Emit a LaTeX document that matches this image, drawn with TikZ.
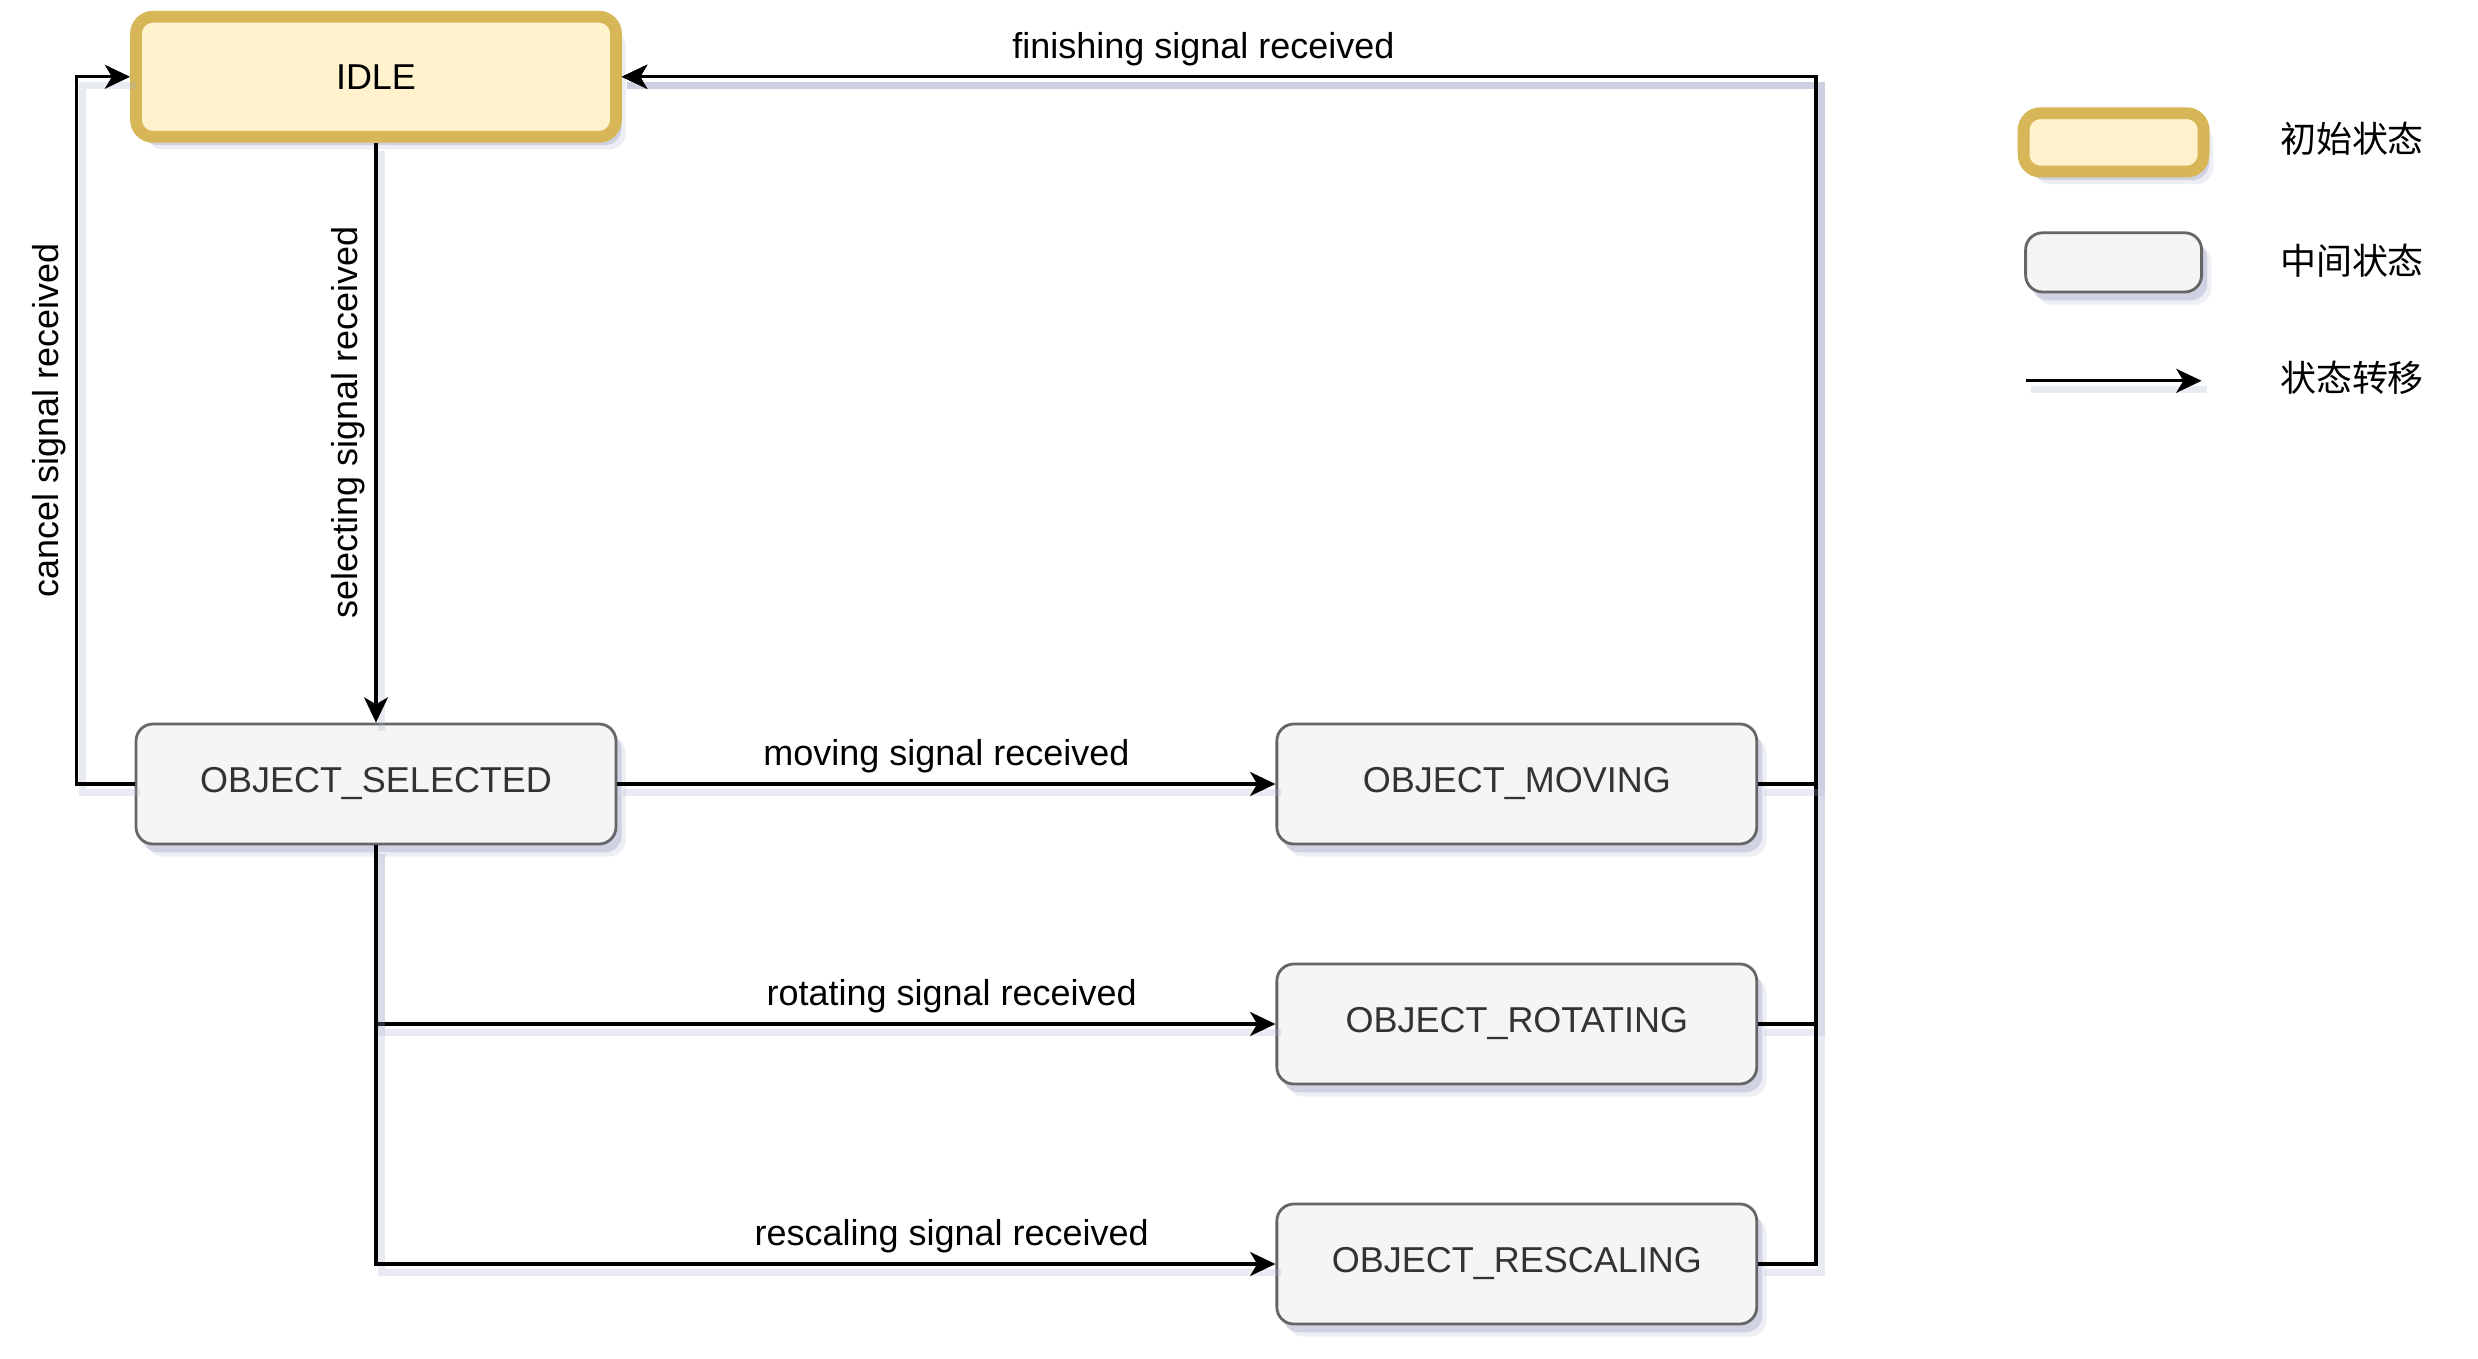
\documentclass[tikz,border=0pt]{standalone}
\usepackage{fontspec}
\setmainfont{Liberation Sans}
\newfontfamily\cjk{Noto Sans CJK SC}
\usetikzlibrary{arrows.meta,shadows,positioning}

\definecolor{idlefill}{HTML}{FFF2CC}
\definecolor{idledraw}{HTML}{D6B656}
\definecolor{statefill}{HTML}{F5F5F5}
\definecolor{statedraw}{HTML}{666666}
\definecolor{statetext}{HTML}{333333}
\definecolor{shadowc}{HTML}{A9AECB}

\begin{document}
\begin{tikzpicture}[x=0.02cm,y=-0.02cm,
    >={Stealth[length=9pt,width=8.5pt,inset=2.5pt]},
    every node/.style={font=\fontsize{12.8}{15}\selectfont}]
    \tikzstyle{state}=[rectangle,rounded corners=6pt,minimum width=6cm,
      minimum height=1.5cm,fill=statefill,draw=statedraw,line width=1pt,
      text=statetext,
      drop shadow={shadow xshift=3.5pt,shadow yshift=-4.5pt,
      fill=shadowc,opacity=0.2},
      drop shadow={shadow xshift=2pt,shadow yshift=-3pt,
      fill=shadowc,opacity=0.45}]
    \tikzstyle{initstate}=[state,fill=idlefill,draw=idledraw,line width=4.2pt,
      text=black]
    \tikzstyle{trans}=[->,line width=1.1pt,
      preaction={draw=shadowc,-,line width=2.5pt,opacity=0.25,
      transform canvas={shift={(2pt,-3pt)}}}]

    \useasboundingbox (0,0) rectangle (1548.75,849.375);

    \node[initstate] (idle) at (235,48)  {IDLE};
    \node[state]     (sel)  at (235,490) {OBJECT\_SELECTED};
    \node[state]     (mov)  at (948,490) {OBJECT\_MOVING};
    \node[state]     (rot)  at (948,640) {OBJECT\_ROTATING};
    \node[state]     (resc) at (948,790) {OBJECT\_RESCALING};
    \coordinate (lt) at (48,48);
    \coordinate (rt) at (1135,48);

    \draw[trans] (idle) -- node[pos=0.482,rotate=90,anchor=south]
      {selecting signal received} (sel);
    \draw[trans] (sel.west) -| node[pos=0.757,rotate=90,anchor=south]
      {cancel signal received} (lt) -- (idle.west);
    \draw[trans] (sel) -- node[above] {moving signal received} (mov);
    \draw[trans] (sel.south) |- node[pos=0.82,above]
      {rotating signal received} (rot.west);
    \draw[trans] (sel.south) |- node[pos=0.82,above]
      {rescaling signal received} (resc.west);
    \draw[trans] (rot.east) -| (rt) -- (idle.east);
    \draw[trans] (resc.east) -| (rt) -- (idle.east);
    \draw[trans] (mov.east) -| (rt) -- node[pos=0.513,above]
      {finishing signal received} (idle.east);

    % legend
    \node[initstate,minimum width=2.25cm,minimum height=0.73cm] (keyinit)
      at (1321,89) {};
    \node (keyinittxt) at (1470,87) {\cjk 初始状态};
    \node[state,minimum width=2.2cm,minimum height=0.74cm] (keymid)
      at (1321,164) {};
    \node (keymidtxt) at (1470,163) {\cjk 中间状态};
    \coordinate (keya) at (1266,238);
    \coordinate (keyb) at (1376,238);
    \draw[trans] (keya) -- (keyb);
    \node (keytrtxt) at (1470,236) {\cjk 状态转移};
\end{tikzpicture}
\end{document}
